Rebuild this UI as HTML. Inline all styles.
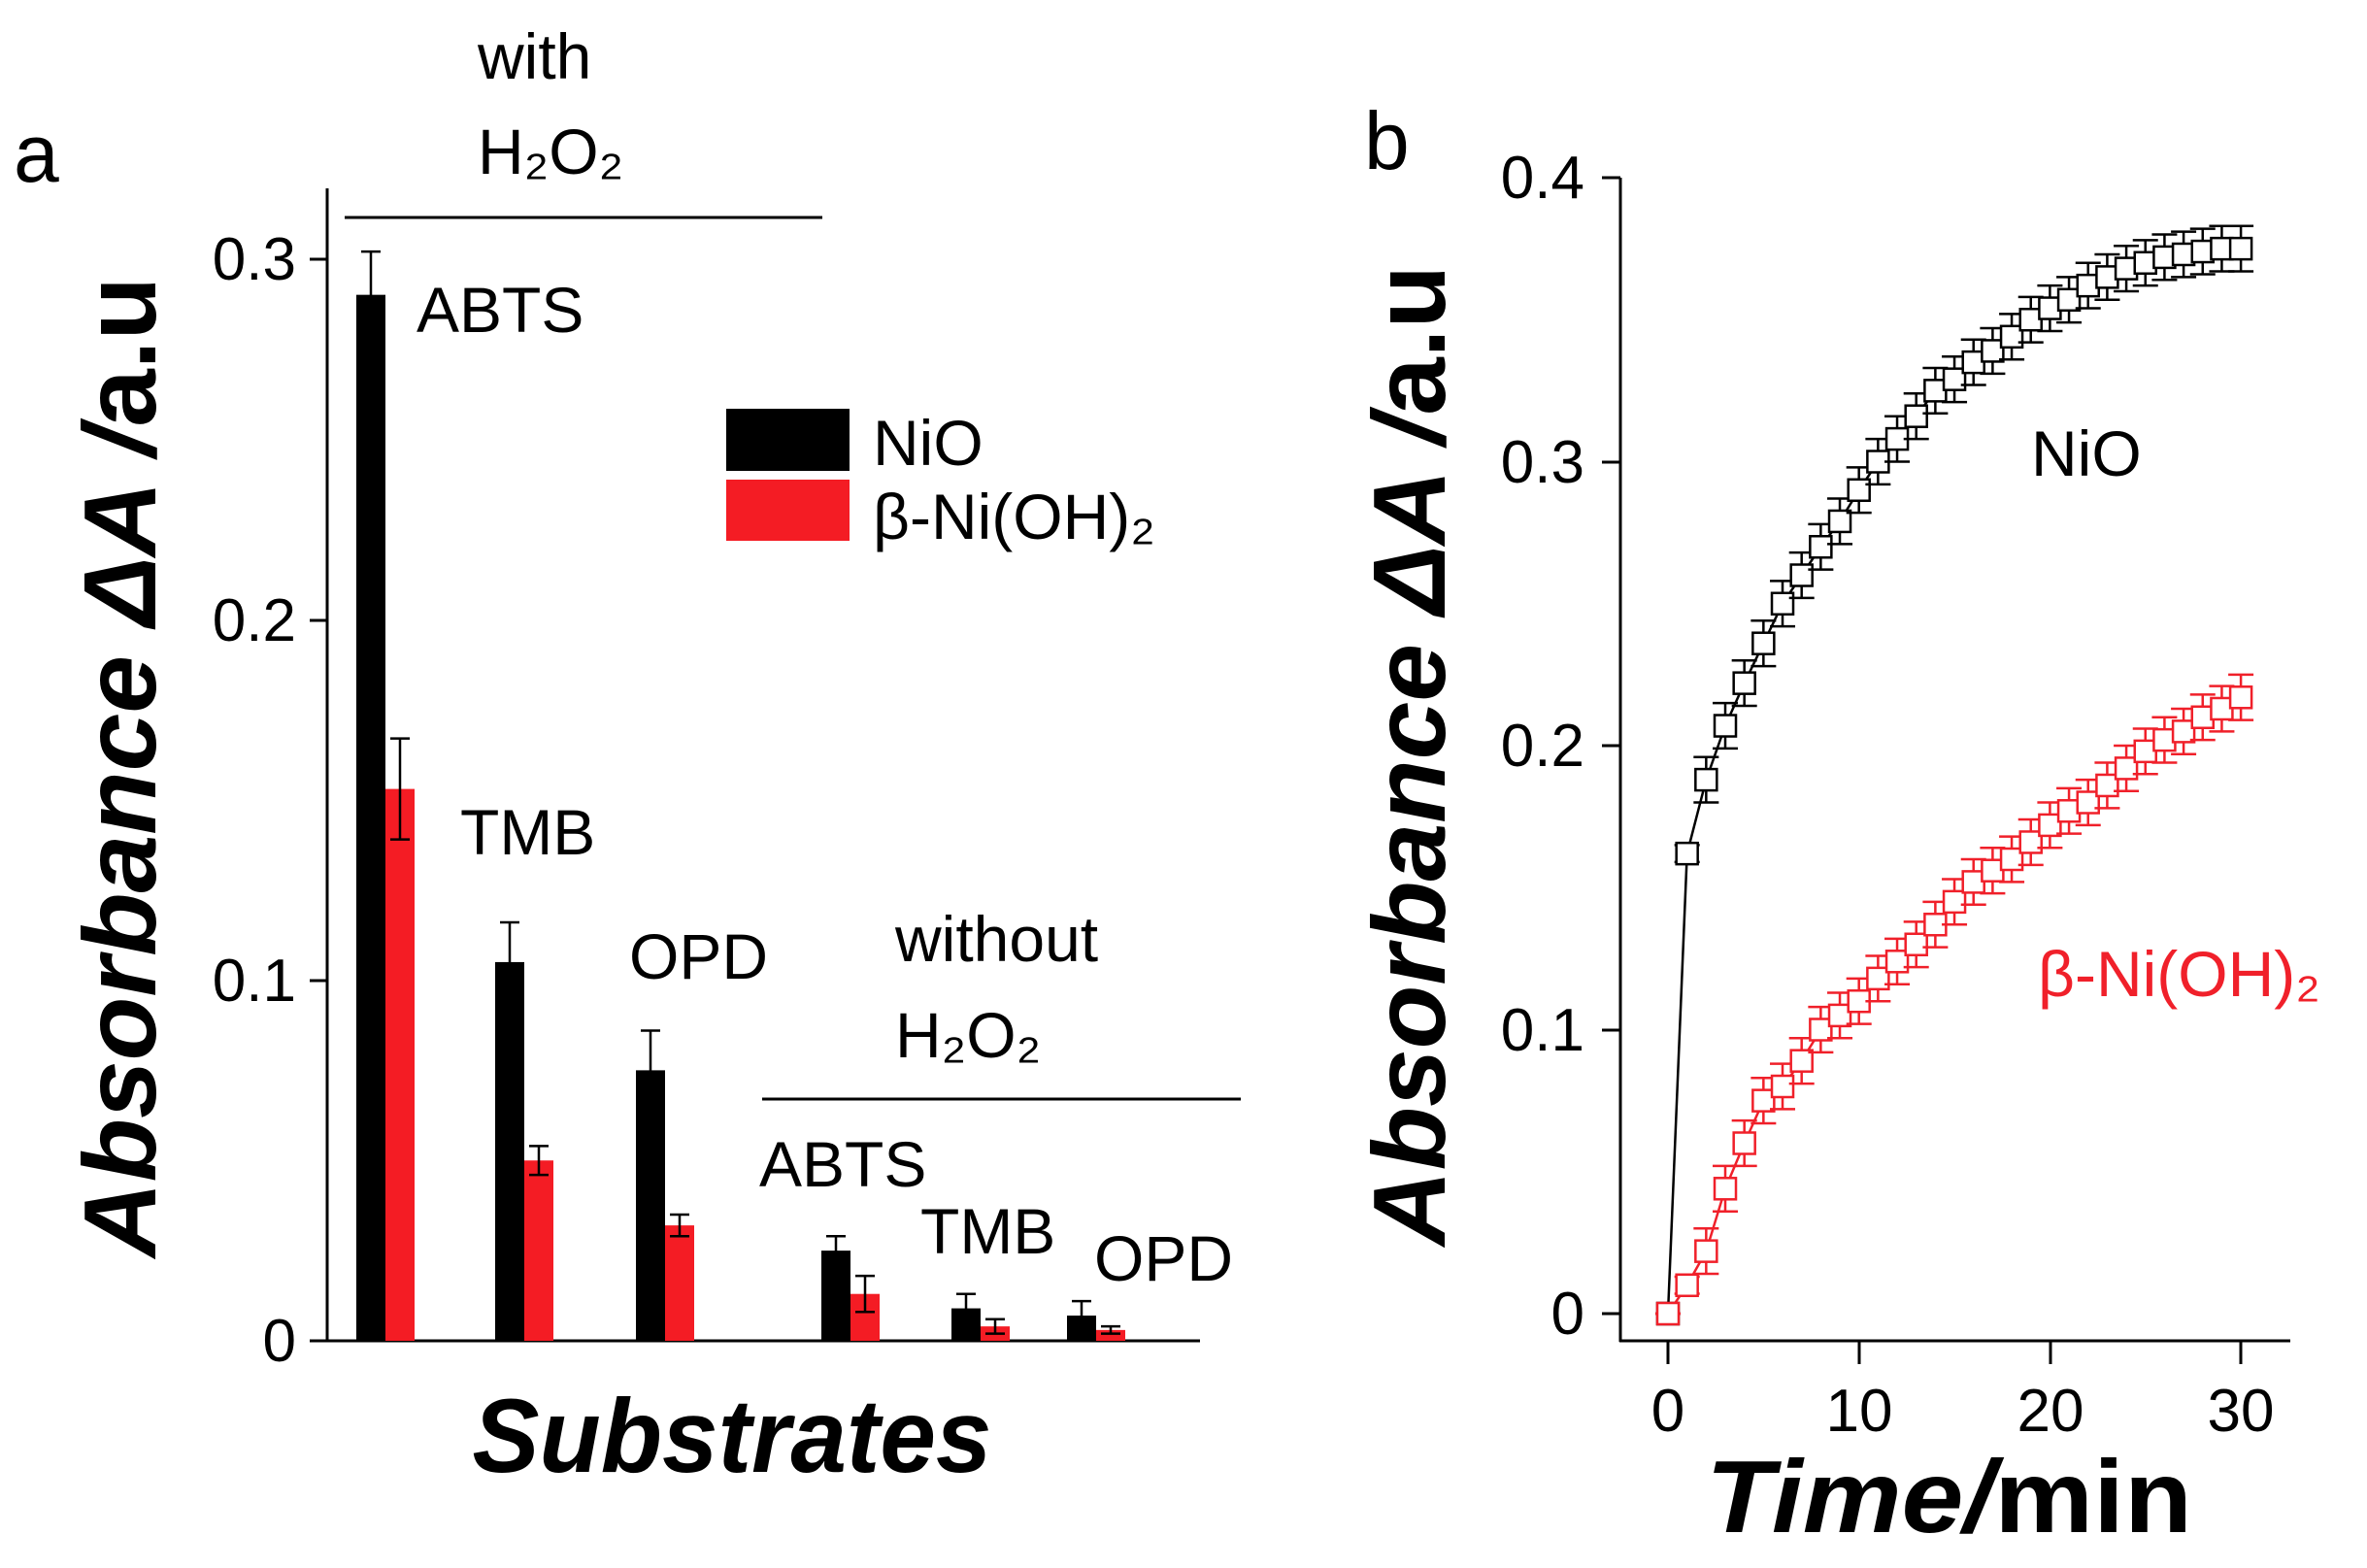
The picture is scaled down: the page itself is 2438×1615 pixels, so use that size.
<!DOCTYPE html>
<html><head><meta charset="utf-8"><style>
html,body{margin:0;padding:0;background:#fff}
svg{display:block}
text{font-family:"Liberation Sans","DejaVu Sans",sans-serif}
</style></head><body>
<svg id="s" width="2438" height="1615" xmlns="http://www.w3.org/2000/svg">
<g stroke="#000" stroke-width="3" fill="none">
<line x1="337" y1="194" x2="337" y2="1382"/>
<line x1="319" y1="1381" x2="1236" y2="1381"/>
<line x1="319" y1="1381" x2="337" y2="1381"/>
<line x1="319" y1="1010" x2="337" y2="1010"/>
<line x1="319" y1="639" x2="337" y2="639"/>
<line x1="319" y1="267" x2="337" y2="267"/>
<line x1="355" y1="224" x2="847" y2="224"/>
<line x1="785" y1="1132" x2="1278" y2="1132"/>
<line x1="1669" y1="183" x2="1669" y2="1382"/>
<line x1="1668" y1="1381" x2="2359" y2="1381"/>
<line x1="1650" y1="183" x2="1669" y2="183"/>
<line x1="1650" y1="476" x2="1669" y2="476"/>
<line x1="1650" y1="768" x2="1669" y2="768"/>
<line x1="1650" y1="1061" x2="1669" y2="1061"/>
<line x1="1650" y1="1353" x2="1669" y2="1353"/>
<line x1="1718" y1="1381" x2="1718" y2="1405"/>
<line x1="1915" y1="1381" x2="1915" y2="1405"/>
<line x1="2112" y1="1381" x2="2112" y2="1405"/>
<line x1="2308" y1="1381" x2="2308" y2="1405"/>
</g>
<g font-size="62" text-anchor="end">
<text x="305" y="1402">0</text><text x="305" y="1031">0.1</text><text x="305" y="660">0.2</text><text x="305" y="288">0.3</text>
<text x="1632" y="1374">0</text><text x="1632" y="1082">0.1</text><text x="1632" y="789">0.2</text><text x="1632" y="497">0.3</text><text x="1632" y="204">0.4</text>
</g>
<g font-size="62" text-anchor="middle">
<text x="1718" y="1474">0</text><text x="1915" y="1474">10</text><text x="2112" y="1474">20</text><text x="2308" y="1474">30</text>
</g>
<text x="14" y="187" font-size="84">a</text>
<text x="1405" y="174" font-size="84">b</text>
<g font-size="66">
<text x="492" y="81">with</text>
<text x="492" y="179">H₂O₂</text>
<text x="429" y="342">ABTS</text>
<text x="474" y="880">TMB</text>
<text x="648" y="1008">OPD</text>
<text x="922" y="990">without</text>
<text x="922" y="1089">H₂O₂</text>
<text x="782" y="1222">ABTS</text>
<text x="948" y="1291">TMB</text>
<text x="1127" y="1319">OPD</text>
<text x="899" y="479">NiO</text>
<text x="899" y="555">β-Ni(OH)₂</text>
<text x="2092" y="490">NiO</text>
<text x="2099" y="1026" fill="#f0202a">β-Ni(OH)₂</text>
</g>
<rect x="748" y="421" width="127" height="64" fill="#000"/>
<rect x="748" y="494" width="127" height="63" fill="#f41c24"/>
<text transform="translate(160,790) rotate(-90)" text-anchor="middle" font-size="106" font-weight="bold" textLength="1010" lengthAdjust="spacingAndGlyphs"><tspan font-style="italic">Absorbance ΔA /</tspan>a.u</text>
<text transform="translate(1488,778) rotate(-90)" text-anchor="middle" font-size="106" font-weight="bold" textLength="1010" lengthAdjust="spacingAndGlyphs"><tspan font-style="italic">Absorbance ΔA /</tspan>a.u</text>
<text x="754" y="1516" text-anchor="middle" font-size="108" font-weight="bold" font-style="italic" textLength="535" lengthAdjust="spacingAndGlyphs">Substrates</text>
<text x="1757" y="1578" font-size="106" font-weight="bold" textLength="501" lengthAdjust="spacingAndGlyphs"><tspan font-style="italic">Time/</tspan>min</text>
<g id="bars"></g>
<g id="pts"></g>
</svg>
<script>
var ns="http://www.w3.org/2000/svg";
function el(p,t,a){var e=document.createElementNS(ns,t);for(var k in a)e.setAttribute(k,a[k]);p.appendChild(e);return e;}
var B=document.getElementById('bars');
var y0=1381,k=3715;
var bx=[367,510,655,846,980,1099];
var nv=[.29,.105,.075,.025,.009,.007],ne=[.012,.011,.011,.004,.004,.004];
var rv=[.153,.05,.032,.013,.004,.003],re=[.014,.004,.003,.005,.002,.001];
for(var i=0;i<6;i++){
 [[bx[i],nv[i],ne[i],'#000'],[bx[i]+30,rv[i],re[i],'#f41c24']].forEach(function(d){
  var top=y0-d[1]*k;
  el(B,'rect',{x:d[0],y:top,width:30,height:y0-top,fill:d[3]});
  var c=d[0]+15,t=top-d[2]*k,b=top+d[2]*k;
  el(B,'path',{d:'M'+c+' '+t+'V'+b+'M'+(c-10)+' '+t+'H'+(c+10)+'M'+(c-10)+' '+b+'H'+(c+10),stroke:'#000','stroke-width':2.5,fill:'none'});
 });
}
var P=document.getElementById('pts');
var N=[0,.162,.188,.207,.222,.236,.25,.26,.27,.279,.29,.30,.308,.316,.325,.329,.335,.339,.344,.35,.354,.357,.362,.365,.368,.37,.372,.373,.374,.375,.375];
var R=[0,.01,.022,.044,.06,.075,.08,.089,.1,.105,.11,.118,.124,.13,.137,.145,.152,.156,.16,.166,.172,.177,.18,.186,.192,.198,.202,.205,.21,.213,.217];
function X(t){return 1718+t*19.67} function Y(v){return 1353-v*2925}
[[N,'#000'],[R,'#f0202a']].forEach(function(s){
 var d='';s[0].forEach(function(v,t){d+=(t?'L':'M')+X(t)+' '+Y(v)});
 el(P,'path',{d:d,stroke:s[1],'stroke-width':2.5,fill:'none'});
 s[0].forEach(function(v,t){
  var x=X(t),y=Y(v),e=(t==0?0:(t==1?0.003:0.008))*2925;
  el(P,'path',{d:'M'+x+' '+(y-e)+'V'+(y+e)+'M'+(x-13)+' '+(y-e)+'H'+(x+13)+'M'+(x-13)+' '+(y+e)+'H'+(x+13),stroke:s[1],'stroke-width':2.5,fill:'none'});
  el(P,'rect',{x:x-11,y:y-11,width:22,height:22,fill:'#fff',stroke:s[1],'stroke-width':2.5});
 });
});
</script>
</body></html>
